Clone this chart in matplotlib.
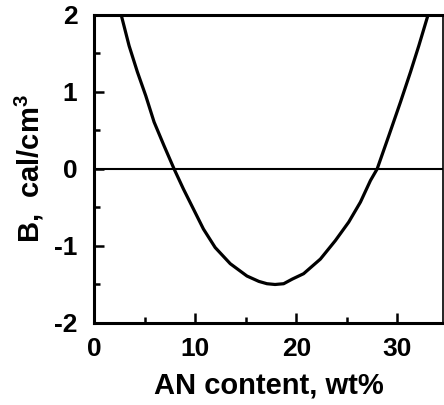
import matplotlib.pyplot as plt
from matplotlib.ticker import MultipleLocator

# valores (B em cal/cm3 vs teor de AN, wt%)
an_content = [2.71, 3.47, 4.29, 5.12, 5.94, 6.93, 7.92, 8.84, 9.83, 10.82,
              11.98, 13.47, 15.12, 16.3, 17.1, 17.9, 18.75, 19.6, 20.72, 22.38,
              23.86, 25.18, 26.34, 27.33, 27.99, 29.14, 30.3, 31.29, 32.11, 33.0]
b_values = [1.99, 1.60, 1.26, 0.95, 0.61, 0.30, 0.0, -0.26, -0.52, -0.78,
            -1.02, -1.23, -1.39, -1.46, -1.49, -1.50, -1.49, -1.43, -1.36, -1.17,
            -0.93, -0.69, -0.43, -0.15, 0.0, 0.43, 0.87, 1.26, 1.60, 1.99]

plt.rcParams['font.family'] = ['Liberation Sans', 'DejaVu Sans']
plt.rcParams['font.weight'] = 'bold'
plt.rcParams['axes.unicode_minus'] = False
plt.rcParams['mathtext.fontset'] = 'custom'
plt.rcParams['mathtext.bf'] = 'Liberation Sans:bold'
plt.rcParams['mathtext.default'] = 'bf'

fig = plt.figure(figsize=(4.44, 4.05), dpi=100)
ax = fig.add_axes([0.2117, 0.2025, 0.786, 0.7605])

ax.plot(an_content, b_values, color='black', lw=2.3, solid_joinstyle='round')
ax.axhline(0, color='black', lw=1.5)

ax.set_xlim(0, 34.5)
ax.set_ylim(-2, 2)
ax.xaxis.set_major_locator(MultipleLocator(10))
ax.xaxis.set_minor_locator(MultipleLocator(5))
ax.yaxis.set_major_locator(MultipleLocator(1))
ax.yaxis.set_minor_locator(MultipleLocator(0.5))
ax.tick_params(which='both', direction='in', width=1.8, labelsize=19)
ax.tick_params(which='major', length=7)
ax.tick_params(which='minor', length=4)
ax.tick_params(axis='y', pad=12)
ax.tick_params(axis='x', pad=10)

for lado in ['left', 'bottom', 'top']:
    ax.spines[lado].set_linewidth(2.2)
ax.spines['right'].set_linewidth(1.2)

ax.set_xlabel('AN content, wt%', fontsize=21, fontweight='bold', labelpad=8)
ax.set_ylabel('B,  cal/cm$^3$', fontsize=21, fontweight='bold', labelpad=6)

fig.savefig('out.png', dpi=100)
